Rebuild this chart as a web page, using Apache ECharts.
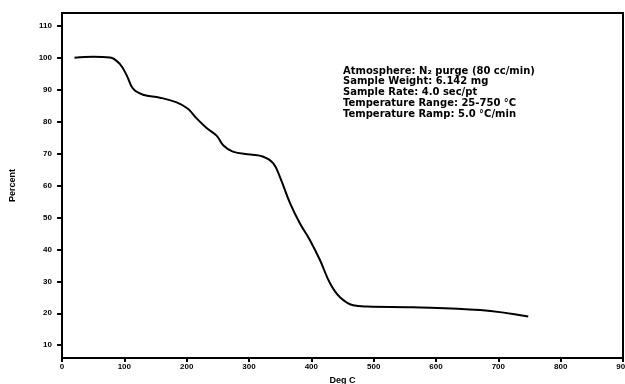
<!DOCTYPE html>
<html>
<head>
<meta charset="utf-8">
<script src="https://cdn.jsdelivr.net/npm/echarts@6/dist/echarts.min.js"></script>
<style>
  html, body { margin: 0; padding: 0; background: #fff; }
  #chart { width: 625px; height: 384px; }
</style>
</head>
<body>
<div id="chart"></div>
<script>
// TGA curve
const temps = [20, 50, 77, 93, 104, 114, 130, 157, 184, 202, 216, 232, 248, 259, 274, 302, 323, 339, 350, 366, 382, 398, 414, 430, 446, 467, 490, 563, 671, 748]
const percents = [100, 100.3, 100.1, 98, 94.4, 90.3, 88.4, 87.5, 86, 84, 81, 78, 75.6, 72.5, 70.6, 69.7, 69, 66.9, 62.5, 54.4, 48, 42.8, 36.6, 29.4, 25, 22.5, 22.1, 21.9, 21, 19]

const notes = [
  'Atmosphere: N\u2082 purge (80 cc/min)',
  'Sample Weight: 6.142 mg',
  'Sample Rate: 4.0 sec/pt',
  'Temperature Range: 25-750 \u00B0C',
  'Temperature Ramp: 5.0 \u00B0C/min',
]

const chart = echarts.init(document.getElementById('chart'))

const font = {
  fontFamily: 'Liberation Sans',
  fontWeight: 'bold',
  fontSize: 8,
  color: '#000',
}

chart.setOption({
  animation: false,
  grid: {
    left: 62,
    right: 2,
    top: 13,
    bottom: 26,
    outerBoundsMode: 'none',
    containLabel: false,
    show: true,
    borderColor: '#000',
    borderWidth: 2,
  },
  xAxis: {
    type: 'value',
    min: 0,
    max: 900,
    interval: 100,
    name: 'Deg C',
    nameLocation: 'middle',
    nameGap: 13,
    nameTextStyle: { ...font, fontSize: 9 },
    axisLine: { lineStyle: { color: '#000', width: 2 } },
    axisTick: { show: true, length: 4, lineStyle: { color: '#000', width: 2 } },
    axisLabel: { ...font, margin: 5 },
    splitLine: { show: false },
  },
  yAxis: {
    type: 'value',
    min: 6,
    max: 114,
    splitNumber: 11,
    name: 'Percent',
    nameLocation: 'middle',
    nameGap: 45,
    nameRotate: 90,
    nameTextStyle: { ...font, fontSize: 9 },
    axisLine: { show: true, lineStyle: { color: '#000', width: 2 } },
    axisTick: { show: true, length: 5, lineStyle: { color: '#000', width: 2 } },
    axisLabel: { ...font, margin: 10, showMinLabel: false, showMaxLabel: false },
    splitLine: { show: false },
  },
  graphic: notes.map((t, i) => ({
    type: 'text',
    left: 343,
    top: 66 + i * 10.8,
    style: { text: t, font: 'bold 10px "DejaVu Sans"', fill: '#000' },
  })),
  series: [
    {
      type: 'line',
      data: temps.map((t, i) => [t, percents[i]]),
      smooth: 0.4,
      showSymbol: false,
      lineStyle: { color: '#000', width: 2 },
    },
  ],
})
</script>
</body>
</html>
